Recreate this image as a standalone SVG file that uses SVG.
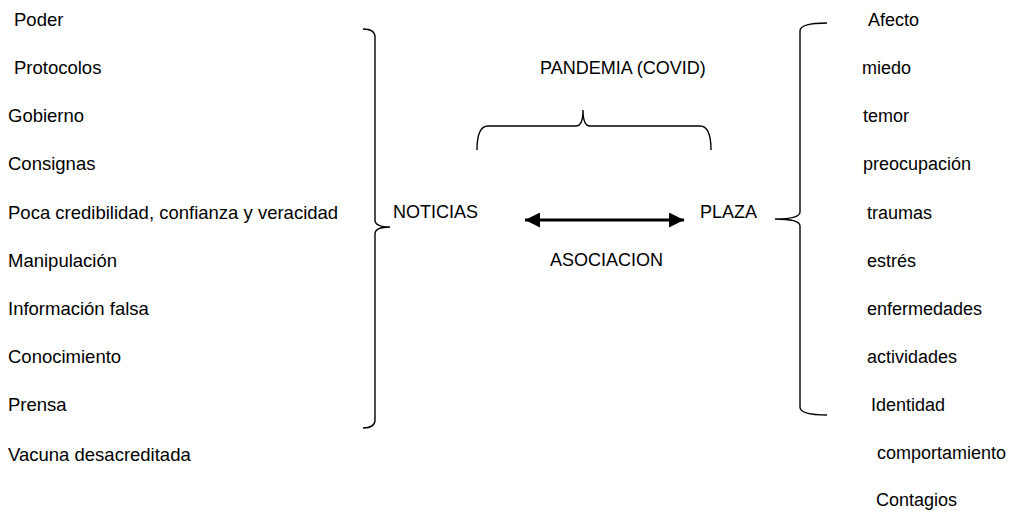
<svg xmlns="http://www.w3.org/2000/svg" width="1011" height="513" viewBox="0 0 1011 513">
<defs>
<style>
text{font-family:"Liberation Sans",Arial,sans-serif;font-size:18px;fill:#000}
#left-list text{font-size:18.5px}
.brace{fill:none;stroke:#000;stroke-width:1.4}
.arrow{stroke:#000;stroke-width:3;fill:none}
</style>
<marker id="ah" viewBox="0 0 10 10" refX="10" refY="5" markerWidth="16" markerHeight="15" markerUnits="userSpaceOnUse" orient="auto-start-reverse">
<path d="M0,0 L10,5 L0,10 Z" fill="#000"/>
</marker>
</defs>
<rect width="1011" height="513" fill="#fff"/>
<g id="left-list">
<text x="14" y="26">Poder</text>
<text x="14" y="74">Protocolos</text>
<text x="8" y="122">Gobierno</text>
<text x="8" y="170">Consignas</text>
<text x="8" y="219">Poca credibilidad, confianza y veracidad</text>
<text x="8" y="267">Manipulación</text>
<text x="8" y="315">Información falsa</text>
<text x="8" y="363">Conocimiento</text>
<text x="8" y="411">Prensa</text>
<text x="8" y="461">Vacuna desacreditada</text>
</g>
<g id="right-list">
<text x="868" y="26">Afecto</text>
<text x="862" y="74">miedo</text>
<text x="863" y="122">temor</text>
<text x="863" y="170">preocupación</text>
<text x="867" y="219">traumas</text>
<text x="867" y="267">estrés</text>
<text x="867" y="315">enfermedades</text>
<text x="867" y="363">actividades</text>
<text x="871" y="411">Identidad</text>
<text x="877" y="459">comportamiento</text>
<text x="876" y="506">Contagios</text>
</g>
<g id="pandemia"><text x="540" y="74">PANDEMIA (COVID)</text></g>
<g id="noticias"><text x="393" y="218">NOTICIAS</text></g>
<g id="plaza"><text x="700" y="218">PLAZA</text></g>
<g id="asociacion"><text x="550" y="266">ASOCIACION</text></g>
<g id="connectors">
<path class="brace" d="M363,29 Q375,29 375,37 L375,220 Q375,227 390,227 Q375,227 375,234 L375,420 Q375,428 363,428"/>
<path class="brace" d="M827,23 Q800,23 800,31 L800,212 Q800,219 775,219 Q800,219 800,226 L800,407 Q800,415 827,415"/>
<path class="brace" d="M477,150 Q477,126 488,126 L576,126 Q583,126 583,110 Q583,126 590,126 L700,126 Q711,126 711,150"/>
<line class="arrow" x1="525" y1="220" x2="684" y2="220" marker-start="url(#ah)" marker-end="url(#ah)"/>
</g>
</svg>
